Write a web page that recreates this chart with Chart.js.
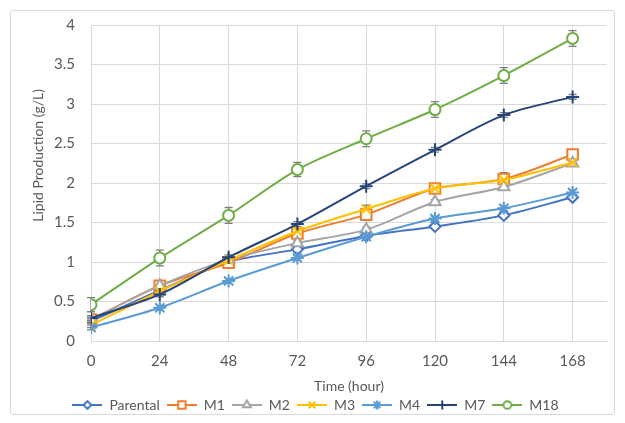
<!DOCTYPE html>
<html>
<head>
<meta charset="utf-8">
<script src="https://cdn.jsdelivr.net/npm/chart.js@4/dist/chart.umd.min.js"></script>
<style>
  html, body { margin: 0; padding: 0; background: #fff; }
  #wrap { position: relative; width: 625px; height: 423px; }
  #frame { position: absolute; left: 10px; top: 10px; width: 603px; height: 403px;
           border: 1px solid #d9d9d9; border-radius: 3px; pointer-events: none; }
  canvas { display: block; }
</style>
</head>
<body>
<div id="wrap">
  <canvas id="c" width="625" height="423"></canvas>
  <div id="frame"></div>
</div>
<script>
// Sampling times (hours) and y-axis ticks
const hours = [0, 24, 48, 72, 96, 120, 144, 168];
const yTicks = [0, 0.5, 1, 1.5, 2, 2.5, 3, 3.5, 4];

// Lipid production (g/L) per strain
const parental = [0.25, 0.64, 1.00, 1.16, 1.33, 1.45, 1.59, 1.82];
const m1       = [0.27, 0.70, 0.99, 1.36, 1.60, 1.93, 2.05, 2.36];
const m2       = [0.27, 0.70, 1.03, 1.24, 1.41, 1.76, 1.95, 2.25];
const m3       = [0.20, 0.63, 1.02, 1.39, 1.67, 1.93, 2.04, 2.26];
const m4       = [0.17, 0.42, 0.76, 1.05, 1.32, 1.55, 1.68, 1.88];
const m7       = [0.29, 0.59, 1.06, 1.48, 1.96, 2.42, 2.86, 3.09];
const m18      = [0.46, 1.05, 1.59, 2.17, 2.56, 2.93, 3.36, 3.83];

// Standard deviations (g/L)
const errParental = [0.03, 0.03, 0.03, 0.03, 0.03, 0.03, 0.03, 0.03];
const errM1       = [0.03, 0.05, 0.04, 0.04, 0.05, 0.04, 0.08, 0.04];
const errM2       = [0.03, 0.03, 0.03, 0.03, 0.03, 0.03, 0.03, 0.03];
const errM3       = [0.03, 0.03, 0.03, 0.03, 0.05, 0.03, 0.03, 0.03];
const errM4       = [0.03, 0.03, 0.03, 0.03, 0.03, 0.03, 0.03, 0.03];
const errM7       = [0.03, 0.03, 0.03, 0.03, 0.03, 0.03, 0.03, 0.03];
const errM18      = [0.09, 0.10, 0.10, 0.09, 0.10, 0.10, 0.10, 0.10];

const series = [
  { label: 'Parental', data: parental, err: errParental, color: '#4472C4', style: 'rectRot',  r: 5.5 },
  { label: 'M1',       data: m1,       err: errM1,       color: '#ED7D31', style: 'rect',     r: 7.5 },
  { label: 'M2',       data: m2,       err: errM2,       color: '#A5A5A5', style: 'triangle', r: 6.5 },
  { label: 'M3',       data: m3,       err: errM3,       color: '#FFC000', style: 'crossRot', r: 6.5 },
  { label: 'M4',       data: m4,       err: errM4,       color: '#5B9BD5', style: 'star',     r: 6.5 },
  { label: 'M7',       data: m7,       err: errM7,       color: '#264478', style: 'cross',    r: 6.5 },
  { label: 'M18',      data: m18,      err: errM18,      color: '#70AD47', style: 'circle',   r: 5.5 }
];

const FONT = 'Lato';
const TEXT = '#595959';
const GRID = '#d9d9d9';
const Y_TITLE = 'Lipid Production (g/L)';

// Small line+marker swatch used as the legend symbol
function swatch(s) {
  const cv = document.createElement('canvas');
  cv.width = 30; cv.height = 14;
  const ctx = cv.getContext('2d');
  ctx.strokeStyle = s.color;
  ctx.lineWidth = 2;
  ctx.beginPath(); ctx.moveTo(0, 7); ctx.lineTo(30, 7); ctx.stroke();
  ctx.fillStyle = '#ffffff';
  Chart.helpers.drawPoint(ctx, { pointStyle: s.style, radius: s.r * 0.7, borderWidth: 2, rotation: 0 }, 15, 7);
  return cv;
}

// Vertical error bars with caps, drawn beneath the series
const errorBars = {
  id: 'errorBars',
  beforeDatasetsDraw(chart) {
    const { ctx, scales: { x, y } } = chart;
    ctx.save();
    ctx.strokeStyle = '#7f7f7f';
    ctx.lineWidth = 1.3;
    series.forEach(s => {
      s.data.forEach((v, i) => {
        const e = s.err[i];
        const px = x.getPixelForValue(hours[i]);
        const top = y.getPixelForValue(v + e);
        const bot = y.getPixelForValue(v - e);
        ctx.beginPath();
        ctx.moveTo(px, top); ctx.lineTo(px, bot);
        ctx.moveTo(px - 4, top); ctx.lineTo(px + 4, top);
        ctx.moveTo(px - 4, bot); ctx.lineTo(px + 4, bot);
        ctx.stroke();
      });
    });
    ctx.restore();
  }
};

// Rotated y-axis title, set a little above the middle of the value axis
const yTitle = {
  id: 'yTitle',
  afterDraw(chart) {
    const { ctx, scales: { y } } = chart;
    const cy = y.getPixelForValue(2.35);
    ctx.save();
    ctx.translate(38, cy);
    ctx.rotate(-Math.PI / 2);
    ctx.font = '14px ' + FONT;
    ctx.fillStyle = TEXT;
    ctx.textAlign = 'center';
    ctx.textBaseline = 'middle';
    ctx.fillText(Y_TITLE, 0, 0);
    ctx.restore();
  }
};

const datasets = series.map((s, i) => ({
  label: s.label,
  data: s.data.map((v, k) => ({ x: hours[k], y: v })),
  borderColor: s.color,
  backgroundColor: '#ffffff',
  borderWidth: 2,
  pointStyle: s.style,
  pointRadius: s.r,
  pointHoverRadius: s.r,
  pointBorderColor: s.color,
  pointBackgroundColor: '#ffffff',
  pointBorderWidth: 2,
  tension: 0.3,
  order: series.length - 1 - i
}));

new Chart(document.getElementById('c'), {
  type: 'line',
  data: { datasets },
  plugins: [errorBars, yTitle],
  options: {
    responsive: false,
    animation: false,
    layout: { padding: { left: 24, right: 18, top: 20, bottom: 1 } },
    plugins: {
      tooltip: { enabled: false },
      legend: {
        position: 'bottom',
        labels: {
          usePointStyle: true,
          pointStyleWidth: 30,
          padding: 7,
          color: TEXT,
          font: { family: FONT, size: 14 },
          generateLabels: () => series.map((s, i) => ({
            text: s.label,
            pointStyle: swatch(s),
            fillStyle: '#ffffff',
            strokeStyle: s.color,
            lineWidth: 0,
            hidden: false,
            datasetIndex: i,
            fontColor: TEXT
          }))
        }
      }
    },
    scales: {
      x: {
        type: 'linear',
        min: 0,
        max: 180,
        afterBuildTicks: sc => { sc.ticks = hours.map(h => ({ value: h })); },
        afterFit: sc => { sc.height = 50; },
        ticks: { color: TEXT, font: { family: FONT, size: 15 }, padding: 11, maxRotation: 0, autoSkip: false },
        grid: { color: GRID, lineWidth: 1, drawTicks: false },
        border: { color: GRID, width: 1 },
        title: { display: true, text: 'Time (hour)', color: TEXT, font: { family: FONT, size: 14 }, padding: { top: 0, bottom: -4 } }
      },
      y: {
        min: 0,
        max: 4,
        afterBuildTicks: sc => { sc.ticks = yTicks.map(v => ({ value: v })); },
        afterFit: sc => { sc.width = 67; },
        ticks: { color: TEXT, font: { family: FONT, size: 15 }, padding: 16, callback: v => String(v) },
        grid: { color: GRID, lineWidth: 1, drawTicks: false },
        border: { display: false },
        title: { display: false }
      }
    }
  }
});
</script>
</body>
</html>
